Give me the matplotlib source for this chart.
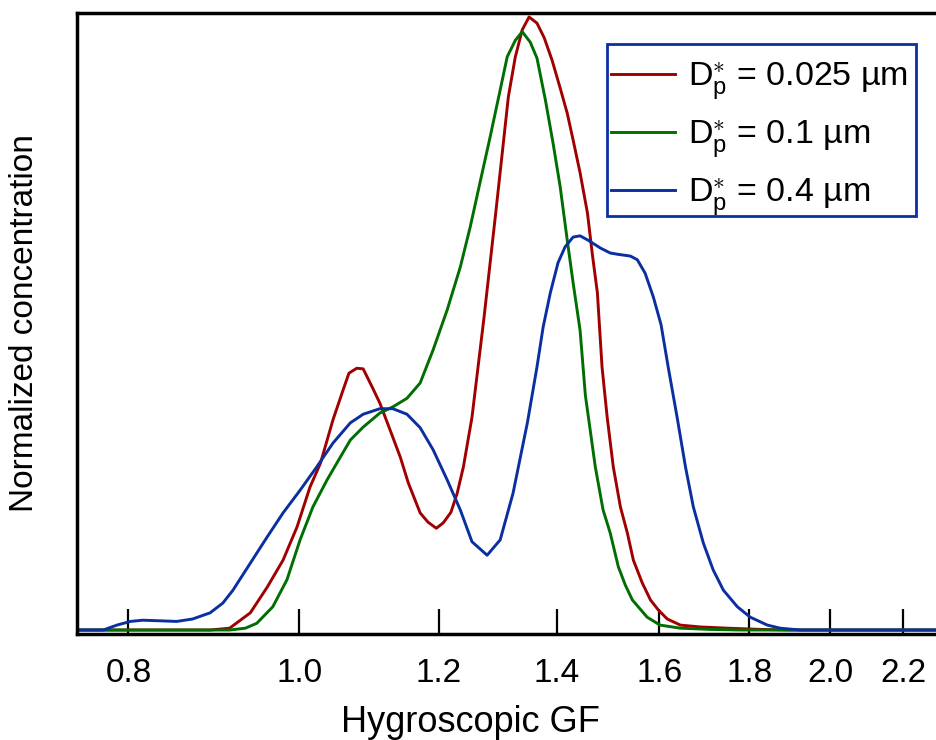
import matplotlib
matplotlib.use("Agg")
import matplotlib.pyplot as plt
from matplotlib.patches import Rectangle
from matplotlib.ticker import FixedLocator, FixedFormatter, NullLocator

plt.rcParams['font.family'] = ['Liberation Sans', 'DejaVu Sans']
plt.rcParams['mathtext.fontset'] = 'custom'
plt.rcParams['mathtext.rm'] = 'Liberation Sans'
plt.rcParams['mathtext.it'] = 'Liberation Sans:italic'

# Dp* = 0.025 um
gf_025 = [0.748, 0.890, 0.913, 0.938, 0.959, 0.979, 0.997, 1.014, 1.028, 1.045,
          1.059, 1.067, 1.078, 1.087, 1.100, 1.111, 1.126, 1.141, 1.153, 1.171,
          1.183, 1.196, 1.207, 1.219, 1.229, 1.239, 1.253, 1.273, 1.293, 1.314,
          1.326, 1.338, 1.350, 1.364, 1.377, 1.391, 1.406, 1.419, 1.430, 1.443,
          1.457, 1.466, 1.476, 1.485, 1.495, 1.507, 1.521, 1.535, 1.547, 1.565,
          1.582, 1.598, 1.617, 1.645, 1.688, 1.749, 1.826, 1.899, 2.30]
nc_025 = [0.0, 0.0, 0.003, 0.028, 0.070, 0.114, 0.168, 0.233, 0.272, 0.343,
          0.392, 0.419, 0.427, 0.426, 0.396, 0.370, 0.326, 0.282, 0.240, 0.191,
          0.176, 0.166, 0.175, 0.192, 0.223, 0.266, 0.347, 0.511, 0.685, 0.870,
          0.935, 0.979, 1.000, 0.990, 0.966, 0.930, 0.884, 0.843, 0.799, 0.746,
          0.680, 0.615, 0.550, 0.429, 0.347, 0.266, 0.201, 0.158, 0.114, 0.077,
          0.049, 0.033, 0.018, 0.008, 0.005, 0.003, 0.001, 0.0, 0.0]

# Dp* = 0.1 um
gf_01 = [0.748, 0.913, 0.932, 0.946, 0.966, 0.984, 1.001, 1.018, 1.037, 1.055,
         1.069, 1.087, 1.111, 1.130, 1.151, 1.171, 1.191, 1.213, 1.234, 1.250,
         1.266, 1.283, 1.300, 1.312, 1.326, 1.338, 1.352, 1.364, 1.379, 1.393,
         1.406, 1.419, 1.430, 1.443, 1.453, 1.472, 1.487, 1.501, 1.517, 1.531,
         1.545, 1.575, 1.602, 1.645, 1.710, 1.779, 2.30]
nc_01 = [0.0, 0.0, 0.003, 0.011, 0.038, 0.082, 0.147, 0.201, 0.245, 0.282,
         0.310, 0.331, 0.354, 0.364, 0.378, 0.403, 0.457, 0.522, 0.592, 0.657,
         0.729, 0.804, 0.881, 0.935, 0.962, 0.976, 0.959, 0.933, 0.865, 0.794,
         0.723, 0.636, 0.566, 0.489, 0.383, 0.266, 0.196, 0.158, 0.103, 0.073,
         0.049, 0.021, 0.008, 0.003, 0.001, 0.0, 0.0]

# Dp* = 0.4 um
gf_04 = [0.748, 0.774, 0.788, 0.802, 0.815, 0.834, 0.852, 0.870, 0.890, 0.905,
         0.917, 0.938, 0.959, 0.979, 1.001, 1.023, 1.045, 1.069, 1.087, 1.111,
         1.130, 1.151, 1.171, 1.191, 1.213, 1.234, 1.253, 1.278, 1.300, 1.322,
         1.347, 1.364, 1.375, 1.388, 1.402, 1.415, 1.430, 1.443, 1.458, 1.482,
         1.501, 1.515, 1.541, 1.555, 1.571, 1.588, 1.604, 1.619, 1.638, 1.656,
         1.673, 1.695, 1.717, 1.740, 1.772, 1.802, 1.843, 1.874, 1.924, 2.30]
nc_04 = [0.0, 0.0, 0.008, 0.014, 0.016, 0.015, 0.014, 0.018, 0.028, 0.044,
         0.065, 0.109, 0.152, 0.191, 0.228, 0.266, 0.305, 0.338, 0.352, 0.361,
         0.361, 0.352, 0.330, 0.294, 0.245, 0.196, 0.144, 0.122, 0.147, 0.223,
         0.338, 0.429, 0.494, 0.550, 0.599, 0.625, 0.641, 0.643, 0.636, 0.623,
         0.615, 0.613, 0.610, 0.604, 0.582, 0.543, 0.498, 0.429, 0.347, 0.266,
         0.201, 0.142, 0.098, 0.065, 0.038, 0.021, 0.008, 0.003, 0.0, 0.0]

labels = ['D$_\\mathregular{p}^{\\ast}$ = 0.025 µm',
          'D$_\\mathregular{p}^{\\ast}$ = 0.1 µm',
          'D$_\\mathregular{p}^{\\ast}$ = 0.4 µm']
tick_vals = [0.8, 1.0, 1.2, 1.4, 1.6, 1.8, 2.0, 2.2]
tick_labels = ['0.8', '1.0', '1.2', '1.4', '1.6', '1.8', '2.0', '2.2']

red = '#a00000'
green = '#006e00'
blue = '#0a2fa0'

fig = plt.figure(figsize=(9.37, 7.4), dpi=100)
ax = fig.add_axes([77/937, 1 - 634/740, 1 - 77/937, (634 - 13)/740])

ax.plot(gf_025, nc_025, color=red, lw=2.1, label=labels[0])
ax.plot(gf_01, nc_01, color=green, lw=2.1, label=labels[1])
ax.plot(gf_04, nc_04, color=blue, lw=2.1, label=labels[2])

ax.set_xscale('log')
ax.set_xlim(0.748, 2.30)
ax.set_ylim(-0.0065, 1.0065)

ax.xaxis.set_major_locator(FixedLocator(tick_vals))
ax.xaxis.set_major_formatter(FixedFormatter(tick_labels))
ax.xaxis.set_minor_locator(NullLocator())
ax.set_yticks([])

ax.tick_params(axis='x', direction='in', length=18, width=1.6, pad=17,
               labelsize=24)

for s in ['left', 'bottom', 'top']:
    ax.spines[s].set_linewidth(2.5)
ax.spines['right'].set_visible(False)

ax.set_xlabel('Hygroscopic GF', fontsize=26)
ax.xaxis.set_label_coords(0.458, -0.115)
ax.set_ylabel('Normalized concentration', fontsize=24)
ax.yaxis.set_label_coords(-0.043, 0.5)

# legend box drawn separately so the frame sits where the reference has it
ax.add_patch(Rectangle((607/937, 1 - 216/740), (916 - 607)/937,
                       (216 - 44)/740, transform=fig.transFigure,
                       facecolor='white', edgecolor=blue, lw=2.0,
                       clip_on=False, zorder=4))
leg = ax.legend(loc='upper left', bbox_to_anchor=(611/937, 1 - 60/740),
                bbox_transform=fig.transFigure, fontsize=24.5, frameon=False,
                borderaxespad=0, borderpad=0, handlelength=1.88,
                handletextpad=0.38, labelspacing=0.47)
leg.set_zorder(6)

fig.savefig('out.png', dpi=100)
